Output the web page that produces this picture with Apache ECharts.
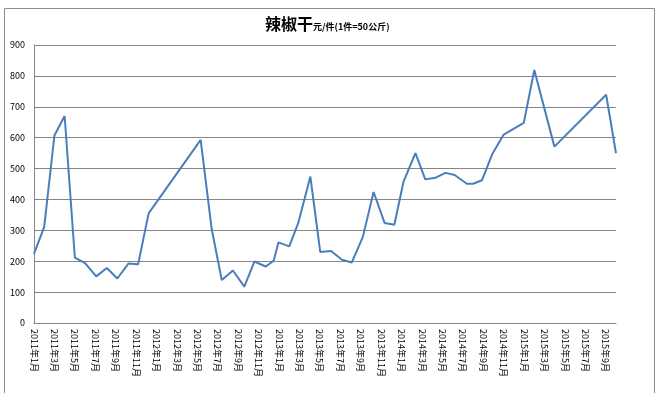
<!DOCTYPE html>
<html>
<head>
<meta charset="utf-8">
<script src="https://cdn.jsdelivr.net/npm/echarts@6/dist/echarts.min.js"></script>
<style>
  html, body { margin: 0; padding: 0; background: #fff; }
  #chart { width: 662px; height: 393px; }
</style>
</head>
<body>
<div id="chart"></div>
<script>
// Observation dates (estimated from positions on the date axis)
const dates = [
  "2011-01-01","2011-02-01","2011-03-01","2011-04-01","2011-05-01","2011-06-01",
  "2011-07-04","2011-08-05","2011-09-06","2011-10-09","2011-11-07","2011-12-08",
  "2012-05-11","2012-06-13","2012-07-13","2012-08-16","2012-09-19","2012-10-19",
  "2012-11-22","2012-12-16","2012-12-30","2013-02-01","2013-02-26","2013-04-03",
  "2013-05-02","2013-06-04","2013-07-06","2013-08-05","2013-09-07","2013-10-09",
  "2013-11-11","2013-12-10","2014-01-07","2014-02-11","2014-03-11","2014-04-10",
  "2014-05-10","2014-06-07","2014-07-13","2014-08-01","2014-08-28","2014-09-28",
  "2014-11-01","2014-12-31","2015-02-01","2015-03-31","2015-09-02","2015-10-01"
];
// Price (元/件)
const prices = [
  224, 311, 607, 670, 212, 194,
  151, 178, 144, 193, 190, 355,
  593, 305, 139, 170, 118, 199,
  183, 202, 261, 248, 325, 474,
  230, 233, 205, 196, 278, 424,
  324, 318, 458, 550, 465, 470,
  486, 479, 451, 451, 462, 548,
  610, 648, 819, 571, 739, 550
];
// Axis tick labels (every two months from 2011年1月)
const tickLabels = [
  "2011年1月","2011年3月","2011年5月","2011年7月","2011年9月","2011年11月",
  "2012年1月","2012年3月","2012年5月","2012年7月","2012年9月","2012年11月",
  "2013年1月","2013年3月","2013年5月","2013年7月","2013年9月","2013年11月",
  "2014年1月","2014年3月","2014年5月","2014年7月","2014年9月","2014年11月",
  "2015年1月","2015年3月","2015年5月","2015年7月","2015年9月"
];
const axisStart = "2011-01-01";
const axisEnd = "2015-10-01";

function monthPos(s) {
  const [y, m, d] = s.split("-").map(Number);
  const dim = new Date(y, m, 0).getDate();
  return (y - 2011) * 12 + (m - 1) + (d - 1) / dim;
}

const seriesData = dates.map((d, i) => [monthPos(d), prices[i]]);

const chart = echarts.init(document.getElementById('chart'), null, { renderer: 'canvas' });
const font = '"Noto Sans CJK SC", "DejaVu Sans", sans-serif';
const gridColor = '#868686';

chart.setOption({
  animation: false,
  backgroundColor: '#ffffff',
  graphic: [{
    type: 'rect',
    shape: { x: 4.5, y: 8.5, width: 650, height: 420 },
    style: { fill: 'none', stroke: '#8c8c8c', lineWidth: 1 },
    silent: true
  }],
  title: {
    text: '{a|辣椒干}{b|元/件(1件=50公斤)}',
    left: 260,
    top: 11,
    textStyle: {
      rich: {
        a: { fontFamily: font, fontSize: 16, fontWeight: 'bold', color: '#000', verticalAlign: 'bottom' },
        b: { fontFamily: font, fontSize: 9, fontWeight: 'bold', color: '#000', verticalAlign: 'bottom', padding: [0, 0, 1, 0] }
      }
    }
  },
  grid: { left: 34, right: 46, top: 45, bottom: 70, containLabel: false },
  xAxis: {
    type: 'value',
    min: monthPos(axisStart),
    max: monthPos(axisEnd),
    interval: 2,
    axisLine: { show: true, lineStyle: { color: gridColor, width: 1 } },
    axisTick: { show: false },
    splitLine: { show: false },
    axisLabel: {
      rotate: -90,
      fontFamily: font,
      fontSize: 9,
      color: '#000',
      margin: 6,
      showMaxLabel: false,
      formatter: function (v) {
        const k = Math.round(v);
        if (Math.abs(v - k) > 1e-6 || k % 2 !== 0) return '';
        return tickLabels[k / 2] || '';
      }
    }
  },
  yAxis: {
    type: 'value',
    min: 0,
    max: 900,
    interval: 100,
    axisLine: { show: true, lineStyle: { color: gridColor, width: 1 } },
    axisTick: { show: false },
    splitLine: { show: true, lineStyle: { color: gridColor, width: 1 } },
    axisLabel: { fontFamily: font, fontSize: 9, color: '#000', margin: 9 }
  },
  series: [{
    type: 'line',
    data: seriesData,
    showSymbol: false,
    symbol: 'none',
    lineStyle: { color: '#4A7EBB', width: 2 },
    itemStyle: { color: '#4A7EBB' }
  }]
});
</script>
</body>
</html>
